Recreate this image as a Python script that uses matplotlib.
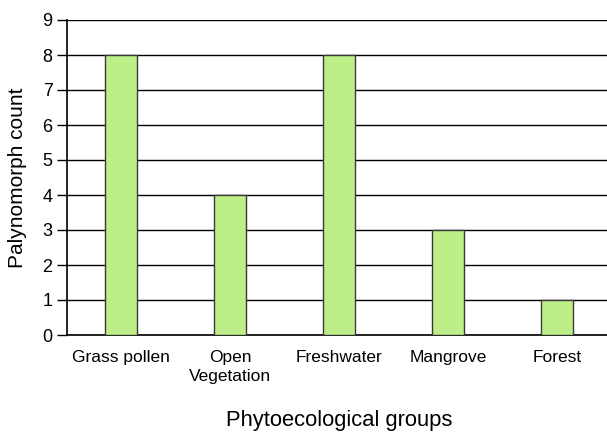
import matplotlib
matplotlib.use('Agg')
import matplotlib.pyplot as plt

groups = ['Grass pollen', 'Open\nVegetation', 'Freshwater', 'Mangrove', 'Forest']
counts = [8, 4, 8, 3, 1]

plt.rcParams['font.family'] = ['Liberation Sans', 'DejaVu Sans']

fig = plt.figure(figsize=(6.07, 4.33), dpi=100)
W, H = 607, 433
ax = fig.add_axes([66.5 / W, (H - 335) / H, 545 / W, 315 / H])

x = range(len(groups))
ax.bar(x, counts, width=0.3, color='#bdee87', edgecolor='#3a3a3a', linewidth=1.0, zorder=3)

ax.set_xlim(-0.5, len(groups) - 0.5)
ax.set_ylim(0, 9)
ax.set_yticks(range(10))
ax.yaxis.grid(True, color='black', linewidth=1.0, zorder=0)
ax.set_axisbelow(True)
ax.set_xticks(list(x))
ax.set_xticklabels(groups, fontsize=12.5, linespacing=1.35)
ax.tick_params(axis='x', length=0, pad=11)
ax.tick_params(axis='y', length=7, width=1.0, labelsize=13, pad=3, direction='out')

for s in ['top', 'right']:
    ax.spines[s].set_visible(False)
ax.spines['left'].set_linewidth(1.2)
ax.spines['bottom'].set_linewidth(1.2)

ax.set_ylabel('Palynomorph count', fontsize=15, labelpad=11)
ax.set_xlabel('Phytoecological groups', fontsize=15.8, labelpad=18.5)

fig.savefig('out.png', dpi=100)
